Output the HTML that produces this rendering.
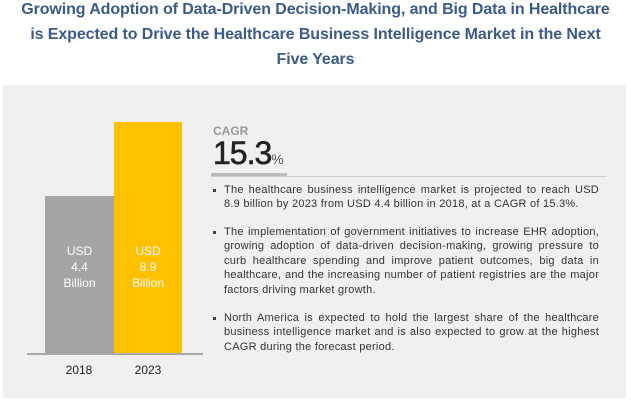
<!DOCTYPE html>
<html><head><style>
body{margin:0;width:631px;height:402px;background:#fff;position:relative;overflow:hidden;font-family:"Liberation Sans",sans-serif}
.t{position:absolute;left:0;width:631px;text-align:center;color:#3b5a8a;font-weight:bold;font-size:16px;letter-spacing:-0.1px;white-space:nowrap}
.panel{position:absolute;left:3px;top:85px;width:623px;height:313px;background:#f0f0f0}
.a{position:absolute}
.bt{position:absolute;color:#fff;font-size:12px;text-align:center;line-height:16px}
.yr{position:absolute;font-size:12px;color:#222;text-align:center;width:68px}
.txt{position:absolute;left:224px;width:375px;font-size:11px;color:#333;line-height:14.4px;text-align:justify;letter-spacing:0.25px}
.b{position:absolute;left:213px;width:3px;height:3px;background:#444}
</style></head><body>
<div class="t" style="top:1px">Growing Adoption of Data-Driven Decision-Making, and Big Data in Healthcare</div>
<div class="t" style="top:26px">is Expected to Drive the Healthcare Business Intelligence Market in the Next</div>
<div class="t" style="top:51px">Five Years</div>
<div class="panel"></div>
<div class="a" style="left:45px;top:196px;width:69px;height:158px;background:#a5a5a5"></div>
<div class="a" style="left:114px;top:122px;width:68px;height:232px;background:#ffc000"></div>
<div class="a" style="left:27px;top:353px;width:176px;height:2px;background:#aaa"></div>
<div class="bt" style="left:45px;top:243px;width:69px">USD<br>4.4<br>Billion</div>
<div class="bt" style="left:114px;top:243px;width:68px">USD<br>8.9<br>Billion</div>
<div class="yr" style="left:45px;top:363px">2018</div>
<div class="yr" style="left:114px;top:363px">2023</div>
<div class="a" style="left:213px;top:124px;font-size:12px;font-weight:bold;color:#999">CAGR</div>
<div class="a" style="left:213px;top:135px;font-size:32px;color:#222;letter-spacing:-1px;-webkit-text-stroke:0.6px #222">15.3<span style="font-size:14px;color:#555;-webkit-text-stroke:0">%</span></div>
<div class="a" style="left:211px;top:173px;width:76px;height:4px;background:#bbb"></div>
<div class="a" style="left:211px;top:176px;width:396px;height:1px;background:#ccc"></div>
<div class="b" style="top:189px"></div>
<div class="txt" style="top:183px">The healthcare business intelligence market is projected to reach USD 8.9 billion by 2023 from USD 4.4 billion in 2018, at a CAGR of 15.3%.</div>
<div class="b" style="top:231px"></div>
<div class="txt" style="top:225px">The implementation of government initiatives to increase EHR adoption, growing adoption of data-driven decision-making, growing pressure to curb healthcare spending and improve patient outcomes, big data in healthcare, and the increasing number of patient registries are the major factors driving market growth.</div>
<div class="b" style="top:317px"></div>
<div class="txt" style="top:311px">North America is expected to hold the largest share of the healthcare business intelligence market and is also expected to grow at the highest CAGR during the forecast period.</div>
</body></html>
